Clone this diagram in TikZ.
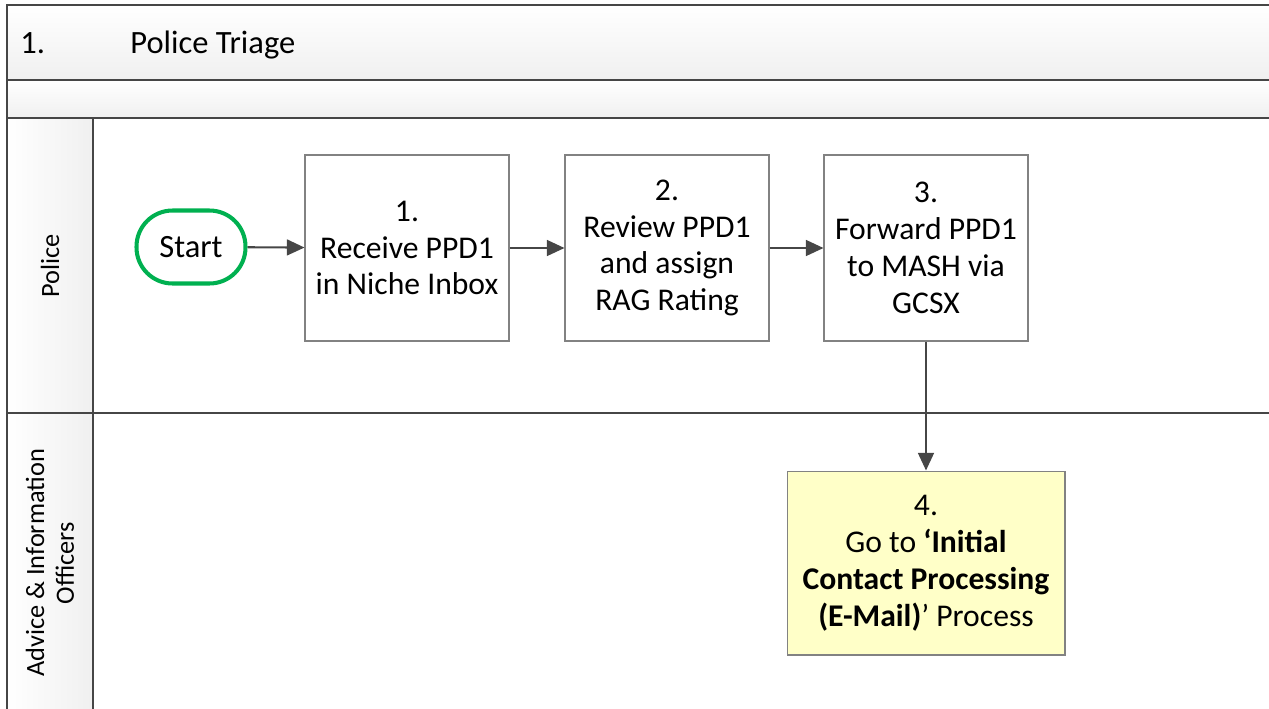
\documentclass[tikz,border=0pt]{standalone}
\usepackage{fontspec}
\setmainfont{Carlito}
\usetikzlibrary{arrows.meta,positioning}

\definecolor{lanegray}{RGB}{70,70,70}
\definecolor{boxgray}{RGB}{130,130,130}
\definecolor{startgreen}{RGB}{0,176,80}
\definecolor{notefill}{RGB}{255,255,200}

\tikzset{
  lane/.style={draw=lanegray, line width=1.1pt},
  stepbox/.style={shape=rectangle, draw=boxgray, line width=0.6pt, fill=white,
    minimum width=4.08cm, minimum height=3.72cm, inner sep=0pt, align=center,
    font=\fontsize{18}{21}\selectfont},
  startnode/.style={shape=rectangle, draw=startgreen, line width=2.3pt, rounded corners=0.72cm,
    minimum width=2.18cm, minimum height=1.46cm, inner sep=0pt,
    font=\fontsize{18.5}{21}\selectfont},
  lanelabel/.style={rotate=90, align=center, font=\fontsize{15}{17}\selectfont},
  headtext/.style={anchor=base west, inner sep=0pt, font=\fontsize{18.5}{21}\selectfont},
  flow/.style={draw=lanegray, line width=1.2pt, -{Triangle[length=10pt,width=9pt]}}
}

\begin{document}
\begin{tikzpicture}[x=0.02cm, y=-0.02cm]
     \clip (0,0) rectangle (1269,708);
     \useasboundingbox (0,0) rectangle (1269,708);

     % header bands and lane column
     \shade[top color=white, bottom color=gray!12] (7,5) rectangle (1290,80);
     \shade[top color=white, bottom color=gray!12] (7,80) rectangle (1290,118);
     \shade[left color=white, right color=gray!12] (7,118) rectangle (93,730);

     \draw[lane] (7,730) -- (7,5) -- (1290,5);
     \draw[lane] (7,80) -- (1290,80);
     \draw[lane] (7,118) -- (1290,118);
     \draw[lane] (7,413) -- (1290,413);
     \draw[lane] (93,118) -- (93,730);

     \node[headtext] (num) at (20,53) {1.};
     \node[headtext] (title) at (130,53) {Police Triage};

     \node[lanelabel] (police) at (50,266) {Police};
     \node[lanelabel] (advice) at (50,563) {Advice \& Information\\Officers};

     \node[startnode] (start) at (191,247) {Start};
     \node[stepbox] (receive) at (407,248) {1.\\Receive PPD1\\in Niche Inbox};
     \node[stepbox] (review) at (667,248) {2.\\Review PPD1\\and assign\\RAG Rating};
     \node[stepbox] (forward) at (926,248) {3.\\Forward PPD1\\to MASH via\\GCSX};
     \node[stepbox, fill=notefill, minimum width=5.56cm, minimum height=3.68cm] (goto) at (926,563)
          {4.\\Go to \textbf{‘Initial}\\\textbf{Contact Processing}\\\textbf{(E-Mail)}’ Process};

     \path (start) edge[flow] (receive);
     \path (receive) edge[flow] (review);
     \path (review) edge[flow] (forward);
     \path (forward) edge[flow] (goto);
\end{tikzpicture}
\end{document}
